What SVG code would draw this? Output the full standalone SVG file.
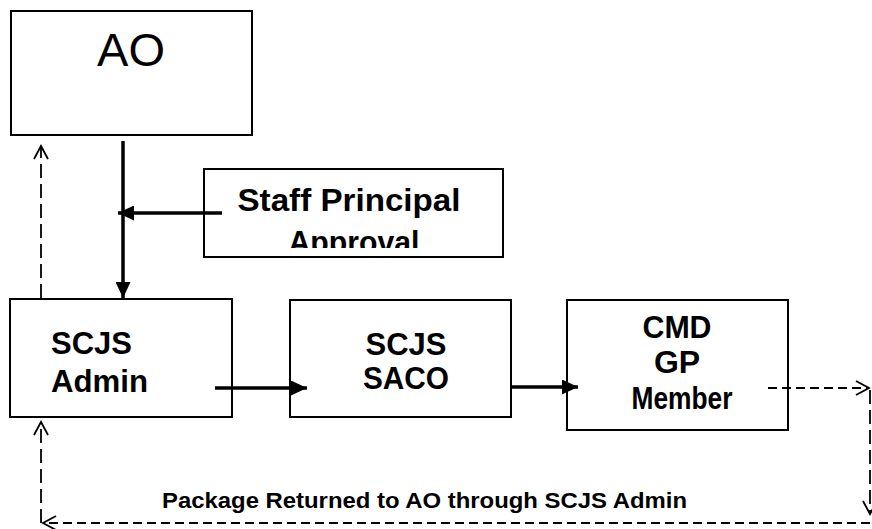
<svg xmlns="http://www.w3.org/2000/svg" width="872" height="529" viewBox="0 0 872 529">
  <style>
    .box { fill: #ffffff; stroke: #000000; stroke-width: 2; }
    .lbl { font-family: "Liberation Sans", Arial, sans-serif; font-weight: bold; fill: #000000; }
    .solid { stroke: #000000; stroke-width: 3.5; fill: none; }
    .dash { stroke: #000000; stroke-width: 1.8; fill: none; stroke-dasharray: 9 5; }
    .vdash { stroke: #000000; stroke-width: 1.8; fill: none; stroke-dasharray: 14 6; }
  </style>
  <defs>
    <marker id="filled" markerUnits="userSpaceOnUse" markerWidth="17" markerHeight="15" refX="16" refY="7.5" orient="auto">
      <path d="M0,0 L16,7.5 L0,15 z" fill="#000000"/>
    </marker>
    <marker id="open" markerUnits="userSpaceOnUse" markerWidth="16" markerHeight="18" refX="14" refY="8" orient="auto">
      <path d="M1,1 L14,8 L1,15" fill="none" stroke="#000000" stroke-width="1.8"/>
    </marker>
    <clipPath id="staffClip">
      <rect x="204" y="169" width="299" height="79"/>
    </clipPath>
  </defs>
  <rect width="872" height="529" fill="#ffffff"/>

  <g id="node-ao">
    <rect class="box" x="11" y="11" width="241" height="124"/>
    <text x="131" y="66" text-anchor="middle" font-family="Liberation Sans, Arial, sans-serif" font-size="47" fill="#000000">AO</text>
  </g>

  <g id="node-staff">
    <rect class="box" x="204" y="169" width="299" height="88"/>
    <g clip-path="url(#staffClip)">
      <text class="lbl" x="349" y="211" text-anchor="middle" font-size="32" textLength="223" lengthAdjust="spacingAndGlyphs">Staff Principal</text>
      <text class="lbl" x="354" y="253" text-anchor="middle" font-size="32" textLength="131" lengthAdjust="spacingAndGlyphs">Approval</text>
    </g>
  </g>

  <g id="node-admin">
    <rect class="box" x="10" y="299" width="222" height="118"/>
    <text class="lbl" x="51" y="354" font-size="32" textLength="81" lengthAdjust="spacingAndGlyphs">SCJS</text>
    <text class="lbl" x="51" y="392" font-size="32" textLength="97" lengthAdjust="spacingAndGlyphs">Admin</text>
  </g>

  <g id="node-saco">
    <rect class="box" x="290" y="300" width="221" height="117"/>
    <text class="lbl" x="406" y="355" text-anchor="middle" font-size="32" textLength="81" lengthAdjust="spacingAndGlyphs">SCJS</text>
    <text class="lbl" x="406" y="389" text-anchor="middle" font-size="32" textLength="86" lengthAdjust="spacingAndGlyphs">SACO</text>
  </g>

  <g id="node-cmd">
    <rect class="box" x="567" y="300" width="221" height="130"/>
    <text class="lbl" x="677" y="338" text-anchor="middle" font-size="32" textLength="69" lengthAdjust="spacingAndGlyphs">CMD</text>
    <text class="lbl" x="677" y="373" text-anchor="middle" font-size="32">GP</text>
    <text class="lbl" x="682" y="409" text-anchor="middle" font-size="32" textLength="101" lengthAdjust="spacingAndGlyphs">Member</text>
  </g>

  <g id="connectors">
    <line class="solid" x1="123" y1="141" x2="123" y2="298" marker-end="url(#filled)"/>
    <line class="solid" x1="222" y1="213" x2="118" y2="213" marker-end="url(#filled)"/>
    <line class="solid" x1="215" y1="388" x2="307" y2="388" marker-end="url(#filled)"/>
    <line class="solid" x1="510" y1="387" x2="578" y2="387" marker-end="url(#filled)"/>

    <line class="dash" x1="768" y1="388" x2="869" y2="388" marker-end="url(#open)"/>
    <line class="vdash" x1="870" y1="390" x2="870" y2="514" marker-end="url(#open)"/>
    <line class="dash" x1="870" y1="523" x2="43" y2="523" marker-end="url(#open)"/>
    <line class="vdash" x1="41" y1="523" x2="41" y2="422" marker-end="url(#open)"/>
    <line class="vdash" x1="41" y1="298" x2="41" y2="146" marker-end="url(#open)"/>
  </g>

  <g id="label-return">
    <text class="lbl" x="162" y="508" font-size="22" textLength="525" lengthAdjust="spacingAndGlyphs">Package Returned to AO through SCJS Admin</text>
  </g>
</svg>
